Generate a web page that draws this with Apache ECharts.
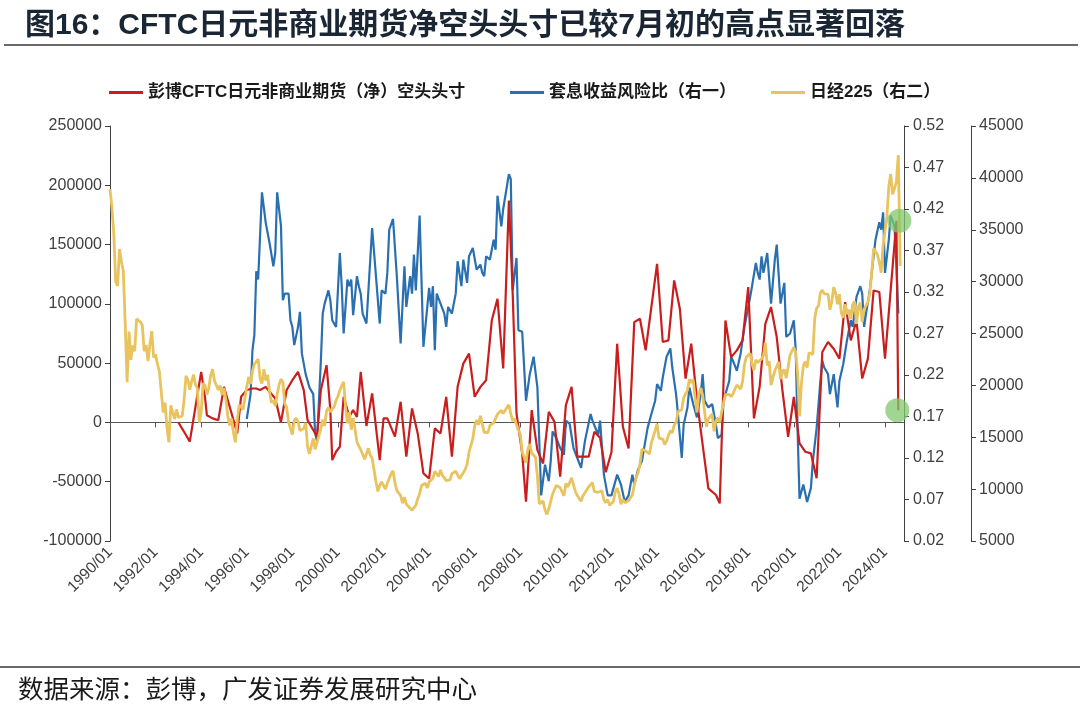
<!DOCTYPE html>
<html><head><meta charset="utf-8">
<script src="https://cdn.jsdelivr.net/npm/echarts@6/dist/echarts.min.js"></script>
<style>html,body{margin:0;padding:0;background:#fff}#c{width:1080px;height:710px}</style>
</head><body><div id="c"></div>
<script>
const titleText = '图16：CFTC日元非商业期货净空头头寸已较7月初的高点显著回落';
const sourceText = '数据来源：彭博，广发证券发展研究中心';
const nameRed = '彭博CFTC日元非商业期货（净）空头头寸';
const nameBlue = '套息收益风险比（右一）';
const nameYellow = '日经225（右二）';

// monthly categories 1990/01 .. 2024/11
const categories = [];
for (let y = 1990; y <= 2024; y++) {
  for (let m = 1; m <= 12; m++) {
    if (y === 2024 && m > 11) break;
    categories.push(y + '/' + (m < 10 ? '0' + m : '' + m));
  }
}

const leftTicks = [-100000, -50000, 0, 50000, 100000, 150000, 200000, 250000];
const ratioTicks = [0.02, 0.07, 0.12, 0.17, 0.22, 0.27, 0.32, 0.37, 0.42, 0.47, 0.52];
const nikkeiTicks = [5000, 10000, 15000, 20000, 25000, 30000, 35000, 40000, 45000];

// 日经225, monthly from 1990/01
const nikkei = [
  38916,
  37189, 34592, 29980, 29585, 33131, 31940, 31036, 25978, 20300, 25194, 22455, 23849,
  23293, 26409, 26292, 26111, 25790, 23291, 23900, 22336, 23916, 25222, 22687, 22984,
  22023, 21339, 19346, 17391, 18348, 15952, 14500, 18061, 17399, 16767, 17684, 16925,
  17024, 17023, 18591, 20919, 20552, 19591, 20380, 21027, 20106, 19703, 16408, 17417,
  20229, 19997, 19112, 19725, 20974, 21552, 20449, 20629, 19564, 19990, 19076, 19723,
  18650, 17053, 16140, 16807, 15437, 14517, 16678, 18117, 17913, 17655, 18744, 19868,
  20813, 20125, 21407, 22041, 21956, 22531, 20693, 20167, 21556, 20467, 21020, 19361,
  18330, 18557, 18003, 19151, 20069, 20605, 20331, 18229, 17888, 16459, 16636, 15259,
  16628, 16831, 16527, 15641, 15671, 15831, 16379, 14108, 13406, 13565, 14884, 13842,
  14499, 14368, 15837, 16701, 16112, 17530, 17862, 17437, 17605, 17942, 18558, 18934,
  19540, 19960, 20337, 17974, 16332, 17411, 15728, 16861, 15747, 14540, 14649, 13786,
  13843, 12884, 12999, 13934, 13262, 12969, 11861, 10714, 9775, 10366, 10697, 10543,
  9998, 10588, 11025, 11493, 11764, 10622, 9877, 9619, 9383, 8640, 9216, 8579,
  8340, 8363, 7973, 7831, 8425, 9083, 9563, 10344, 10219, 10560, 10101, 10677,
  10784, 11042, 11715, 11762, 11236, 11859, 11326, 11082, 10824, 10771, 10899, 11489,
  11388, 11741, 11669, 11009, 11277, 11584, 11900, 12414, 13574, 13607, 14872, 16111,
  16650, 16205, 17060, 16906, 15468, 15505, 15457, 16141, 16128, 16399, 16274, 17226,
  17383, 17604, 17288, 17400, 17876, 18138, 17249, 16569, 16786, 16738, 15681, 15308,
  13592, 13603, 12526, 13850, 14339, 13481, 13377, 13073, 11260, 8577, 8512, 8860,
  7994, 7568, 8110, 8828, 9523, 9958, 10357, 10493, 10133, 10035, 9346, 10546,
  10198, 10126, 11090, 11057, 9769, 9383, 9537, 8824, 9369, 9202, 9937, 10229,
  10238, 10624, 9755, 9850, 9694, 9816, 9833, 8955, 8700, 8988, 8435, 8455,
  8803, 9723, 10084, 9521, 8543, 9007, 8695, 8840, 8870, 8928, 9446, 10395,
  11139, 11559, 12398, 13861, 13775, 13677, 13668, 13389, 14456, 14328, 15662, 16291,
  14915, 14841, 14828, 14304, 14632, 15162, 15621, 15425, 16174, 16414, 17460, 17451,
  17674, 18798, 19207, 19520, 20563, 20236, 20585, 18890, 17388, 19083, 19748, 19034,
  17518, 16027, 16759, 16666, 17235, 15576, 16569, 16887, 16450, 17425, 18308, 19114,
  19041, 19119, 18909, 19197, 19651, 20033, 19925, 19646, 20356, 22012, 22725, 22765,
  23098, 22068, 21454, 22468, 22202, 22305, 22554, 22865, 24120, 21920, 22351, 20015,
  20773, 21385, 21206, 22259, 20601, 21276, 21522, 20704, 21756, 22927, 23294, 23657,
  23205, 21143, 17000, 20194, 21878, 22288, 21710, 23140, 23185, 22977, 26434, 27444,
  27663, 28966, 29179, 28813, 28860, 28792, 27284, 28090, 29453, 28893, 27822, 28792,
  27002, 26527, 27821, 26848, 27280, 26393, 27802, 28092, 25937, 27587, 27969, 26095,
  27327, 27446, 28041, 28856, 30888, 33189, 33172, 32619, 31858, 30859, 33487, 33464,
  36287, 39166, 40369, 38406, 38488, 39583, 42200, 31500
];

// CFTC 日元非商业净空头头寸 (合约)
const redPoints = [
  ['1993/01', 0], ['1993/05', -10600], ['1993/07', -16200], ['1993/10', 13200],
  ['1994/01', 42600], ['1994/03', 21600], ['1994/04', 6100], ['1994/07', 3400], ['1994/10', 1900],
  ['1995/01', 30000], ['1995/02', 24400], ['1995/05', 7600], ['1995/08', -9300], ['1995/10', 21600],
  ['1996/01', 27300], ['1996/04', 28600], ['1996/06', 28600], ['1996/08', 27300], ['1996/11', 30000],
  ['1997/01', 25800], ['1997/04', 20200], ['1997/07', 0], ['1997/10', 27300],
  ['1998/01', 35600], ['1998/04', 42600], ['1998/07', 27300], ['1998/09', 1900], ['1998/12', -6400],
  ['1999/02', -12000], ['1999/04', 27300], ['1999/07', 48300], ['1999/09', 10400], ['1999/10', -31800], ['1999/12', -24700],
  ['2000/02', -20500], ['2000/04', 21600], ['2000/07', 5000], ['2000/09', 10400], ['2000/11', 4700],
  ['2001/01', 42600], ['2001/04', -3000], ['2001/07', 24400], ['2001/11', -31800],
  ['2002/01', 3400], ['2002/03', 3400], ['2002/07', -12000], ['2002/10', 17400],
  ['2003/01', -28900], ['2003/04', 11800], ['2003/07', -9300], ['2003/10', -43000],
  ['2004/01', -47300], ['2004/04', -5000], ['2004/07', -9300], ['2004/10', 21600],
  ['2005/01', -28900], ['2005/04', 30000], ['2005/07', 49600], ['2005/10', 58000],
  ['2006/01', 21600], ['2006/04', 30000], ['2006/07', 35600], ['2006/10', 86100],
  ['2007/01', 104300], ['2007/04', 45500], ['2007/07', 187100], ['2007/09', 108600], ['2007/11', 7600],
  ['2008/02', -26100], ['2008/04', -66800], ['2008/07', 10400], ['2008/10', -23300],
  ['2009/01', -34600], ['2009/04', 9000], ['2009/07', 500], ['2009/10', -45700],
  ['2010/01', 14600], ['2010/04', 30000], ['2010/07', -28900], ['2010/10', -28900],
  ['2011/01', -28900], ['2011/04', -7900], ['2011/07', -13000], ['2011/10', -42000],
  ['2012/01', -25000], ['2012/04', 66400], ['2012/07', -3700], ['2012/10', -21900],
  ['2013/01', 84600], ['2013/04', 87400], ['2013/07', 60800],
  ['2014/01', 133800], ['2014/04', 67800], ['2014/07', 69200], ['2014/10', 119800],
  ['2015/01', 95900], ['2015/04', 37000], ['2015/07', 66400], ['2015/10', 18800], ['2015/12', -6500],
  ['2016/04', -55600], ['2016/08', -61200], ['2016/10', -68300],
  ['2017/01', 86000], ['2017/04', 55100], ['2017/07', 60800], ['2017/10', 69200],
  ['2018/01', 114100], ['2018/04', 3400], ['2018/07', 30000], ['2018/10', 83200],
  ['2019/01', 97300], ['2019/04', 72000], ['2019/07', 27100], ['2019/10', -12100],
  ['2020/01', 21600], ['2020/04', -17700], ['2020/07', -24700], ['2020/10', -26100],
  ['2021/01', -47100], ['2021/04', 59400], ['2021/07', 67800], ['2021/10', 62200],
  ['2022/01', 53800], ['2022/04', 101500], ['2022/07', 69200], ['2022/10', 86000],
  ['2023/01', 37000], ['2023/04', 53800], ['2023/07', 111300], ['2023/10', 110000],
  ['2024/01', 53800], ['2024/07', 170000], ['2024/08', 10300]
];

// 套息收益风险比
const bluePoints = [
  ['1996/01', 0.167], ['1996/03', 0.197], ['1996/04', 0.25], ['1996/05', 0.268], ['1996/06', 0.345], ['1996/07', 0.335],
  ['1996/08', 0.337], ['1996/09', 0.44], ['1996/11', 0.403], ['1996/12', 0.405],
  ['1997/01', 0.379], ['1997/03', 0.351], ['1997/04', 0.367], ['1997/05', 0.44], ['1997/07', 0.40], ['1997/08', 0.31],
  ['1997/09', 0.318], ['1997/11', 0.318], ['1997/12', 0.286],
  ['1998/01', 0.278], ['1998/02', 0.256], ['1998/04', 0.278], ['1998/05', 0.296], ['1998/06', 0.246], ['1998/08', 0.221],
  ['1998/10', 0.205], ['1998/12', 0.197],
  ['1999/01', 0.15], ['1999/02', 0.14], ['1999/04', 0.237], ['1999/05', 0.294], ['1999/06', 0.306], ['1999/08', 0.322],
  ['1999/09', 0.31], ['1999/10', 0.286], ['1999/12', 0.278],
  ['2000/02', 0.367], ['2000/03', 0.327], ['2000/04', 0.27], ['2000/06', 0.335], ['2000/07', 0.327], ['2000/08', 0.335],
  ['2000/09', 0.292], ['2000/11', 0.339], ['2000/12', 0.327],
  ['2001/01', 0.318], ['2001/02', 0.294], ['2001/04', 0.282], ['2001/07', 0.397], ['2001/11', 0.282], ['2001/12', 0.322],
  ['2002/02', 0.318], ['2002/03', 0.343], ['2002/04', 0.395], ['2002/05', 0.397], ['2002/06', 0.408], ['2002/08', 0.339],
  ['2002/10', 0.258], ['2002/12', 0.351],
  ['2003/01', 0.302], ['2003/03', 0.339], ['2003/04', 0.318], ['2003/05', 0.365], ['2003/06', 0.322], ['2003/08', 0.412],
  ['2003/10', 0.254],
  ['2004/01', 0.325], ['2004/02', 0.302], ['2004/03', 0.327], ['2004/04', 0.25], ['2004/05', 0.318], ['2004/07', 0.306],
  ['2004/09', 0.294], ['2004/10', 0.278], ['2004/11', 0.302],
  ['2005/01', 0.294], ['2005/03', 0.318], ['2005/04', 0.357], ['2005/06', 0.327], ['2005/07', 0.359], ['2005/09', 0.331],
  ['2005/10', 0.363], ['2005/12', 0.373],
  ['2006/02', 0.347], ['2006/04', 0.353], ['2006/05', 0.343], ['2006/06', 0.339], ['2006/07', 0.363], ['2006/09', 0.359],
  ['2006/11', 0.383], ['2006/12', 0.371],
  ['2007/01', 0.436], ['2007/03', 0.399], ['2007/04', 0.42], ['2007/06', 0.448], ['2007/07', 0.462], ['2007/08', 0.456],
  ['2007/09', 0.322], ['2007/11', 0.361], ['2007/12', 0.274],
  ['2008/02', 0.272], ['2008/04', 0.189], ['2008/06', 0.221], ['2008/08', 0.242], ['2008/10', 0.205], ['2008/12', 0.075],
  ['2009/02', 0.112], ['2009/04', 0.092], ['2009/05', 0.116], ['2009/06', 0.152], ['2009/08', 0.144], ['2009/10', 0.132],
  ['2009/12', 0.124],
  ['2010/01', 0.165], ['2010/03', 0.161], ['2010/05', 0.132], ['2010/07', 0.12], ['2010/09', 0.108], ['2010/11', 0.14],
  ['2011/02', 0.173], ['2011/03', 0.165], ['2011/06', 0.148], ['2011/07', 0.165], ['2011/09', 0.1], ['2011/11', 0.075],
  ['2012/01', 0.075], ['2012/04', 0.1], ['2012/06', 0.088], ['2012/08', 0.067], ['2012/10', 0.075], ['2012/12', 0.1],
  ['2013/01', 0.088], ['2013/03', 0.106], ['2013/05', 0.116], ['2013/08', 0.156], ['2013/10', 0.173], ['2013/12', 0.189],
  ['2014/01', 0.209], ['2014/03', 0.201], ['2014/04', 0.217], ['2014/06', 0.242], ['2014/08', 0.252], ['2014/09', 0.229],
  ['2014/11', 0.197], ['2014/12', 0.173],
  ['2015/02', 0.12], ['2015/03', 0.16], ['2015/05', 0.181], ['2015/06', 0.205], ['2015/08', 0.185], ['2015/10', 0.169],
  ['2015/12', 0.197],
  ['2016/01', 0.221], ['2016/02', 0.189], ['2016/04', 0.181], ['2016/06', 0.185], ['2016/08', 0.16], ['2016/09', 0.144],
  ['2016/11', 0.148], ['2016/12', 0.189],
  ['2017/03', 0.213], ['2017/04', 0.242], ['2017/05', 0.237], ['2017/07', 0.225], ['2017/09', 0.246], ['2017/11', 0.278],
  ['2018/02', 0.314], ['2018/03', 0.327], ['2018/05', 0.355], ['2018/06', 0.343], ['2018/07', 0.335], ['2018/08', 0.363],
  ['2018/09', 0.343], ['2018/11', 0.367], ['2018/12', 0.365],
  ['2019/01', 0.306], ['2019/03', 0.359], ['2019/04', 0.377], ['2019/05', 0.379], ['2019/06', 0.306], ['2019/08', 0.331],
  ['2019/09', 0.266], ['2019/11', 0.27],
  ['2020/01', 0.286], ['2020/02', 0.25], ['2020/03', 0.152], ['2020/04', 0.071], ['2020/06', 0.088], ['2020/08', 0.067],
  ['2020/10', 0.084], ['2020/11', 0.116],
  ['2021/01', 0.156], ['2021/03', 0.213], ['2021/04', 0.237], ['2021/05', 0.229], ['2021/07', 0.221], ['2021/08', 0.197],
  ['2021/10', 0.221], ['2021/12', 0.181],
  ['2022/01', 0.213], ['2022/03', 0.233], ['2022/05', 0.262], ['2022/07', 0.286], ['2022/08', 0.278], ['2022/10', 0.314],
  ['2022/12', 0.327],
  ['2023/01', 0.318], ['2023/02', 0.278], ['2023/03', 0.294], ['2023/05', 0.322], ['2023/07', 0.363], ['2023/08', 0.383],
  ['2023/10', 0.404], ['2023/11', 0.395], ['2023/12', 0.416],
  ['2024/01', 0.343], ['2024/03', 0.383], ['2024/04', 0.412], ['2024/06', 0.399], ['2024/07', 0.351], ['2024/08', 0.294]
];

const colRed = '#C81E1E', colBlue = '#2A70B0', colYellow = '#E8C35E';
const axisCol = '#404040';
const fontLatin = '"Liberation Sans", Arial, "Noto Sans CJK SC", sans-serif';

const toXY = pts => pts.map(p => [categories.indexOf(p[0]), p[1]]);
const redData = toXY(redPoints);
const blueData = toXY(bluePoints);
const redPeak = redData[redData.length - 2];
const redEnd = redData[redData.length - 1];

const chart = echarts.init(document.getElementById('c'), null, {renderer: 'canvas'});
const legendText = {fontSize: 17, fontWeight: 'bold', color: '#1a1a1a', fontFamily: fontLatin};
const legendBase = {top: 79, icon: 'rect', itemWidth: 34, itemHeight: 3, itemGap: 0, textStyle: legendText, selectedMode: false};
const plain = v => String(v);

chart.setOption({
  animation: false,
  backgroundColor: '#fff',
  title: {
    text: titleText, left: 20, top: 6,
    textStyle: {fontSize: 30, fontWeight: 'bold', color: '#1b2634', fontFamily: fontLatin}
  },
  graphic: [
    {type: 'line', shape: {x1: 4, y1: 45, x2: 1078, y2: 45}, style: {stroke: '#6a6a6a', lineWidth: 2}},
    {type: 'line', shape: {x1: 0, y1: 667, x2: 1080, y2: 667}, style: {stroke: '#6a6a6a', lineWidth: 2}},
    {type: 'text', left: 18, top: 676, style: {text: sourceText, fontSize: 25.5, fill: '#1a1a1a', fontFamily: '"Noto Sans CJK SC", sans-serif'}}
  ],
  legend: [
    Object.assign({}, legendBase, {left: 104, data: [nameRed]}),
    Object.assign({}, legendBase, {left: 505, data: [nameBlue]}),
    Object.assign({}, legendBase, {left: 766, data: [nameYellow]})
  ],
  grid: {left: 110, right: 176, top: 126, bottom: 169, containLabel: false},
  xAxis: [
    {
      type: 'category', data: categories, boundaryGap: false,
      axisLine: {onZero: true, onZeroAxisIndex: 0, lineStyle: {color: '#555', width: 1.2}},
      axisTick: {show: true, interval: 23, length: 5, lineStyle: {color: '#555'}},
      axisLabel: {show: false}, splitLine: {show: false}
    },
    {
      type: 'category', data: categories, boundaryGap: false, position: 'bottom',
      axisLine: {show: false, onZero: false}, axisTick: {show: false},
      axisLabel: {show: true, interval: 23, rotate: 45, margin: 9, fontSize: 15.5, color: axisCol, fontFamily: fontLatin},
      splitLine: {show: false}
    }
  ],
  yAxis: [
    {
      type: 'value', position: 'left', min: -100000, max: 250000, interval: 50000,
      axisLine: {show: true, lineStyle: {color: axisCol}},
      axisTick: {show: true, length: 5, customValues: leftTicks, lineStyle: {color: axisCol}},
      axisLabel: {customValues: leftTicks, fontSize: 16, color: axisCol, fontFamily: fontLatin, margin: 8, formatter: plain},
      splitLine: {show: false}
    },
    {
      type: 'value', position: 'right', min: 0.02, max: 0.52, interval: 0.05,
      axisLine: {show: true, lineStyle: {color: axisCol}},
      axisTick: {show: true, length: 5, customValues: ratioTicks, lineStyle: {color: axisCol}},
      axisLabel: {customValues: ratioTicks, fontSize: 16, color: axisCol, fontFamily: fontLatin, margin: 9,
        formatter: v => Number(v).toFixed(2)},
      splitLine: {show: false}
    },
    {
      type: 'value', position: 'right', offset: 67, min: 5000, max: 45000, interval: 5000,
      axisLine: {show: true, lineStyle: {color: axisCol}},
      axisTick: {show: true, length: 5, customValues: nikkeiTicks, lineStyle: {color: axisCol}},
      axisLabel: {customValues: nikkeiTicks, fontSize: 16, color: axisCol, fontFamily: fontLatin, margin: 8, formatter: plain},
      splitLine: {show: false}
    }
  ],
  series: [
    {
      name: nameRed, type: 'line', xAxisIndex: 0, yAxisIndex: 0, data: redData,
      symbol: 'none', showSymbol: false, lineStyle: {color: colRed, width: 2.2}, itemStyle: {color: colRed},
      z: 3,
      markPoint: {
        symbol: 'circle', symbolSize: 24, silent: true,
        label: {show: false},
        itemStyle: {color: 'rgba(128,200,110,0.75)'},
        data: [
          {coord: [redPeak[0], redPeak[1]], symbolOffset: [3, 0]},
          {coord: [redEnd[0], redEnd[1]], symbolOffset: [-1, 0]}
        ]
      }
    },
    {
      name: nameBlue, type: 'line', xAxisIndex: 0, yAxisIndex: 1, data: blueData,
      symbol: 'none', showSymbol: false, lineStyle: {color: colBlue, width: 2.2}, itemStyle: {color: colBlue},
      z: 2
    },
    {
      name: nameYellow, type: 'line', xAxisIndex: 0, yAxisIndex: 2, data: nikkei,
      symbol: 'none', showSymbol: false, lineStyle: {color: colYellow, width: 2.8}, itemStyle: {color: colYellow},
      z: 4
    }
  ]
});
</script>
</body></html>
